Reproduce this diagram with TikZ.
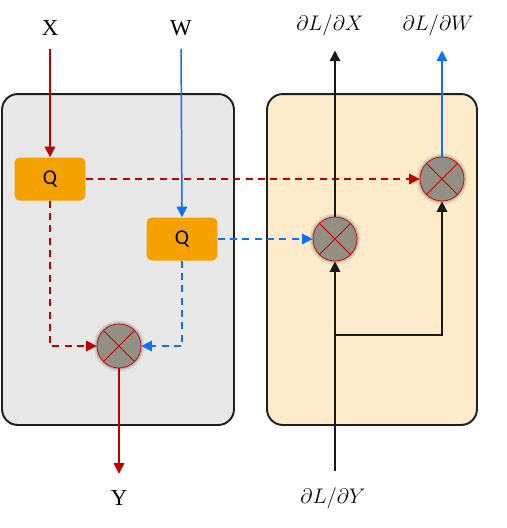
\documentclass[tikz,border=0pt]{standalone}
\usepackage{fontspec}
\setmainfont{Liberation Serif}
\newfontfamily\qfont{Carlito}
\usepackage{amsmath}
\usetikzlibrary{shapes, arrows.meta, positioning, calc}

\definecolor{fwdgray}{RGB}{232,232,232}
\definecolor{bwdcream}{RGB}{253,235,201}
\definecolor{qorange}{RGB}{245,161,0}
\definecolor{mulgray}{RGB}{146,143,132}
\definecolor{xred}{RGB}{192,0,0}
\definecolor{wblue}{RGB}{16,110,255}

\tikzset{
  panel/.style={draw=black!88, line width=1.1pt, rounded corners=9pt, inner sep=0pt},
  quant/.style={fill=qorange, rounded corners=3pt, minimum width=1.42cm, minimum height=0.86cm, font=\qfont\fontsize{12}{14}\selectfont},
  mult/.style={circle, draw=red!80!black, fill=mulgray, minimum size=0.88cm, inner sep=0pt,
    preaction={draw=black, line width=4pt, opacity=0.08},
    preaction={draw=black, line width=2pt, opacity=0.15}},
  lbl/.style={font=\fontsize{13}{15}\selectfont},
  arr/.style={line width=0.85pt, -{Triangle[length=6pt, width=6pt]}},
  dsh/.style={arr, dash pattern=on 4pt off 3pt}
}

\begin{document}
\begin{tikzpicture}[x=0.02cm, y=-0.02cm]
  \useasboundingbox (0,0) rectangle (507,528);

  % Panels
  \node[panel, fill=fwdgray, minimum width=4.64cm, minimum height=6.62cm] (fwd) at (118,259.5) {};
  \node[panel, fill=bwdcream, minimum width=4.2cm, minimum height=6.62cm] (bwd) at (372,259.5) {};

  % Labels
  \node[lbl] (lx) at (50,28) {X};
  \node[lbl] (lw) at (181,28) {W};
  \node[lbl] (ly) at (119,498) {Y};
  \node[lbl] (lgx) at (330,25) {$\partial L/\partial X$};
  \node[lbl] (lgw) at (438,25) {$\partial L/\partial W$};
  \node[lbl] (lgy) at (333,498) {$\partial L/\partial Y$};

  % Quantizers
  \node[quant] (qx) at (50,179) {Q};
  \node[quant] (qw) at (182,239) {Q};

  % Multipliers
  \node[mult] (mulout) at (119,346) {};
  \node[mult] (mulgx) at (335,239) {};
  \node[mult] (mulgw) at (442,179) {};
  \foreach \m in {mulout, mulgx, mulgw}
    \draw[red!80!black, line width=0.5pt] (\m.45) -- (\m.225) (\m.135) -- (\m.315);

  % Forward pass
  \draw[arr, xred, shorten <=4pt] (lx.south) -- (qx.north);
  \draw[arr, wblue, shorten <=4pt] (lw.south) -- (qw.north);
  \draw[dsh, xred] (qx.south) |- (mulout.west);
  \draw[dsh, wblue] (qw.south) |- (mulout.east);
  \draw[arr, xred, shorten >=6pt] (mulout.south) -- (ly.north);

  % Backward pass
  \draw[dsh, xred] (qx.east) -- (mulgw.west);
  \draw[dsh, wblue] (qw.east) -- (mulgx.west);
  \coordinate (split) at (335,335);
  \draw[arr, black!90, shorten <=6pt] (lgy.north -| mulgx) -- (mulgx.south);
  \draw[arr, black!90] (split) -| (mulgw.south);
  \draw[arr, black!90, shorten >=5pt] (mulgx.north) -- (lgx.south -| mulgx);
  \draw[arr, wblue, shorten >=5pt] (mulgw.north) -- (lgw.south -| mulgw);
\end{tikzpicture}
\end{document}
